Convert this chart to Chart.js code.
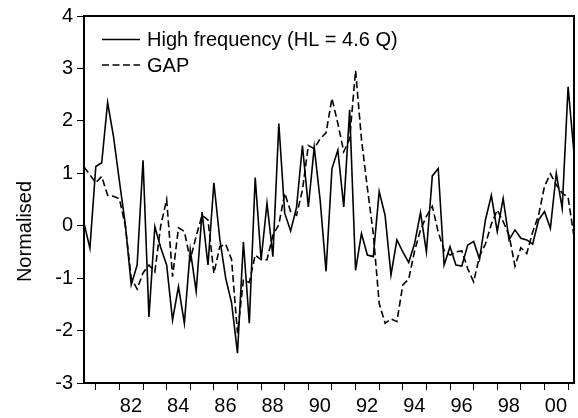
<!DOCTYPE html>
<html><head><meta charset="utf-8">
<script src="https://cdn.jsdelivr.net/npm/chart.js@4.4.1/dist/chart.umd.min.js"></script>
<style>html,body{margin:0;padding:0;background:#fff}#wrap{width:578px;height:418px}</style>
</head><body><div id="wrap"><canvas id="c" width="578" height="418"></canvas></div>
<script>
// ---- data ----
const firstYear = 1980, firstQuarter = 3, nObs = 84; // 1980Q3 .. 2001Q2
const highFreq = [
  0.05,-0.43,1.13,1.20,2.35,1.70,0.85,0.02,-1.13,-0.75,
  1.25,-1.74,-0.02,-0.42,-0.75,-1.80,-1.16,-1.86,-0.46,-1.25,
  0.26,-0.75,0.82,-0.25,-1.00,-1.47,-2.43,-0.31,-1.86,0.92,
  -0.65,0.43,-0.59,1.95,0.24,-0.10,0.35,1.53,0.36,1.50,
  0.49,-0.87,1.09,1.44,0.36,2.21,-0.85,-0.15,-0.56,-0.59,
  0.65,0.20,-0.94,-0.27,-0.50,-0.70,-0.34,0.25,-0.50,0.95,
  1.09,-0.75,-0.40,-0.75,-0.77,-0.37,-0.30,-0.64,0.11,0.58,
  -0.11,0.52,-0.27,-0.08,-0.24,-0.27,-0.35,0.11,0.27,-0.05,
  1.00,0.33,2.65,1.38
];
const gap = [
  1.12,0.97,0.82,0.94,0.58,0.56,0.51,0.00,-1.00,-1.21,
  -0.90,-0.75,-0.88,0.00,0.50,-0.97,-0.04,-0.11,-0.65,-0.20,
  0.20,0.11,-0.91,-0.40,-0.35,-0.65,-2.05,-1.04,-1.08,-0.56,
  -0.65,-0.65,-0.18,0.02,0.62,0.27,0.20,0.68,1.53,1.47,
  1.66,1.77,2.43,1.95,1.41,1.66,2.96,1.65,0.72,-0.15,
  -1.48,-1.86,-1.78,-1.83,-1.13,-1.02,-0.48,-0.08,0.18,0.37,
  -0.12,-0.47,-0.56,-0.50,-0.48,-0.82,-1.07,-0.58,-0.35,0.03,
  0.30,0.08,-0.18,-0.77,-0.42,-0.53,-0.12,0.20,0.75,0.99,
  0.78,0.62,0.54,-0.21
];
const seriesLabels = ['High frequency (HL = 4.6 Q)', 'GAP'];
const tickYears = [1981,1982,1983,1984,1985,1986,1987,1988,1989,1990,1991,1992,1993,1994,1995,1996,1997,1998,1999,2000,2001];
const yTicks = [-3,-2,-1,0,1,2,3,4];
const yTitle = 'Normalised';

// quarter positions (fractional years) for each observation
const quarterX = [];
for (let i = 0; i < nObs; i++) {
  const q = firstQuarter - 1 + i;
  quarterX.push(firstYear + Math.floor(q / 4) + (q % 4) / 4);
}

const FONT = '"Liberation Sans", Arial, Helvetica, sans-serif';
const FS = 20;

const decorPlugin = {
  id: 'decor',
  afterDraw(chart) {
    const {ctx, chartArea: a} = chart;
    ctx.save();
    // box
    ctx.strokeStyle = '#000';
    ctx.lineWidth = 2;
    ctx.setLineDash([]);
    ctx.strokeRect(a.left, a.top, a.right - a.left, a.bottom - a.top);
    // legend
    ctx.font = FS + 'px ' + FONT;
    ctx.fillStyle = '#000';
    ctx.textBaseline = 'middle';
    ctx.textAlign = 'left';
    const rows = [39.5, 65];
    chart.data.datasets.forEach((ds, i) => {
      const y = rows[i];
      ctx.beginPath();
      ctx.lineWidth = ds.borderWidth;
      ctx.setLineDash(ds.borderDash || []);
      ctx.moveTo(a.left + 18, y);
      ctx.lineTo(a.left + 56, y);
      ctx.stroke();
      ctx.setLineDash([]);
      ctx.fillText(ds.label, a.left + 63, y + 1);
    });
    // y title
    ctx.translate(25.5, 231.5);
    ctx.rotate(-Math.PI / 2);
    ctx.textAlign = 'center';
    ctx.fillText(yTitle, 0, 0);
    ctx.restore();
  }
};

new Chart(document.getElementById('c'), {
  type: 'line',
  data: {
    datasets: [
      {label: seriesLabels[0], data: quarterX.map((x, i) => ({x, y: highFreq[i]})),
       borderColor: '#000', borderWidth: 1.6, pointRadius: 0, tension: 0, fill: false},
      {label: seriesLabels[1], data: quarterX.map((x, i) => ({x, y: gap[i]})),
       borderColor: '#000', borderWidth: 1.6, borderDash: [7, 3.5], pointRadius: 0, tension: 0, fill: false}
    ]
  },
  options: {
    responsive: false, animation: false,
    layout: {padding: {top: 16, right: 4, left: 0, bottom: 0}},
    plugins: {legend: {display: false}, tooltip: {enabled: false}},
    scales: {
      x: {
        type: 'linear', min: quarterX[0], max: quarterX[nObs - 1],
        afterBuildTicks: s => { s.ticks = tickYears.map(v => ({value: v})); },
        afterFit: s => { s.height = 35; },
        grid: {drawOnChartArea: false, drawTicks: true, tickLength: 7, tickWidth: 1, tickColor: '#000'},
        border: {display: true, color: '#000', width: 2},
        ticks: {autoSkip: false, maxRotation: 0, padding: 4, labelOffset: 11.5, color: '#000',
                font: {family: FONT, size: FS},
                callback: v => (v % 2 === 0 ? String(v).slice(2) : '')}
      },
      y: {
        min: yTicks[0], max: yTicks[yTicks.length - 1],
        afterBuildTicks: s => { s.ticks = yTicks.map(v => ({value: v})); },
        afterFit: s => { s.width = 84; },
        grid: {drawOnChartArea: false, drawTicks: true, tickLength: 7, tickWidth: 1, tickColor: '#000'},
        border: {display: true, color: '#000', width: 2},
        ticks: {padding: 4, color: '#000', font: {family: FONT, size: FS},
                callback: v => String(v)}
      }
    }
  },
  plugins: [decorPlugin]
});
</script>
</body></html>
